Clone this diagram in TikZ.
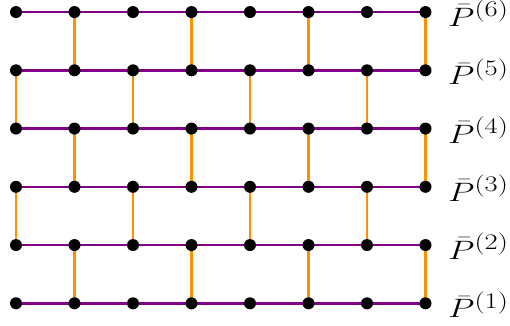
\documentclass[tikz,border=0pt]{standalone}
\usepackage{graphicx}
\usepackage{amsmath}
\definecolor{hpurple}{RGB}{130,0,135}
\definecolor{vorange}{RGB}{255,145,0}
\tikzset{
  dot/.style={circle,fill=black,inner sep=0pt,minimum size=12pt},
  hedge/.style={draw=hpurple,line width=2.6pt},
  vedge/.style={draw=vorange,line width=2.6pt},
  lab/.style={anchor=base west,inner sep=0pt}
}
\newcommand{\rowlab}[1]{\scalebox{1.38}[1.07]{\Huge$\bar{P}^{(#1)}$}}
\begin{document}
\begin{tikzpicture}[x=1pt,y=1pt]
\useasboundingbox (0,0) rectangle (510,-325);
% coordinates
\foreach \i in {0,...,7}{
  \foreach \k in {1,...,6}{
    \coordinate (c-\i-\k) at ({16+58.5*\i},{-(303.3-58.25*(\k-1))});
  }
}
% horizontal edges
\foreach \k in {1,...,6}{
  \draw[hedge] (c-0-\k) -- (c-7-\k);
}
% vertical edges
\foreach \k/\kk in {1/2,3/4,5/6}{
  \foreach \i in {1,3,5,7}{
    \draw[vedge] (c-\i-\k) -- (c-\i-\kk);
  }
}
\foreach \k/\kk in {2/3,4/5}{
  \foreach \i in {0,2,4,6}{
    \draw[vedge] (c-\i-\k) -- (c-\i-\kk);
  }
}
% dots
\foreach \i in {0,...,7}{
  \foreach \k in {1,...,6}{
    \node[dot] (d-\i-\k) at (c-\i-\k) {};
  }
}
% labels
\foreach \k in {1,...,6}{
  \node[lab] (l-\k) at ([xshift=22.5pt,yshift=-14.5pt]c-7-\k) {\rowlab{\k}};
}
\end{tikzpicture}
\end{document}
